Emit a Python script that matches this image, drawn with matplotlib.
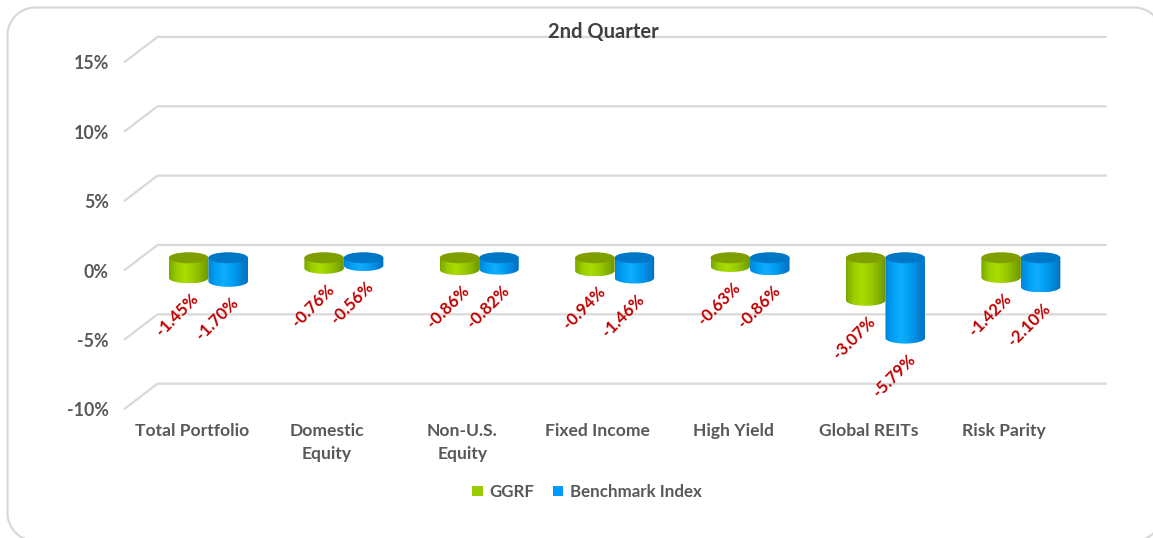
import numpy as np
import matplotlib
matplotlib.use("Agg")
import matplotlib.pyplot as plt
from matplotlib.patches import Ellipse, PathPatch, Patch
from matplotlib.path import Path
from matplotlib.colors import LinearSegmentedColormap

# ---------------- data ----------------
categories = ["Total Portfolio", "Domestic\nEquity", "Non-U.S.\nEquity", "Fixed Income",
              "High Yield", "Global REITs", "Risk Parity"]
ggrf = [-1.45, -0.76, -0.86, -0.94, -0.63, -3.07, -1.42]
benchmark = [-1.70, -0.56, -0.82, -1.46, -0.86, -5.79, -2.10]
series_names = ["GGRF", "Benchmark Index"]
yticks = [-10, -5, 0, 5, 10, 15]
ytick_labels = ["-10%", "-5%", "0%", "5%", "10%", "15%"]
title = "2nd Quarter"

plt.rcParams['font.family'] = ['Lato', 'DejaVu Sans']

W, H = 1153, 538
fig = plt.figure(figsize=(W / 100, H / 100), dpi=100)
fig.patch.set_facecolor("white")

# axes placement (pixels)
ax_l, ax_r, ax_t, ax_b = 124, 1107, 30, 412
ax = fig.add_axes([ax_l / W, 1 - ax_b / H, (ax_r - ax_l) / W, (ax_b - ax_t) / H])
px_per_unit = 135.4
px_per_pct = 13.87
y0_px = 270.5
xmin = -0.5
xmax = xmin + (ax_r - ax_l) / px_per_unit
ymax = (y0_px - ax_t) / px_per_pct
ymin = (y0_px - ax_b) / px_per_pct

DX = 33.5 / px_per_unit      # depth shift (x)
DY = 25.5 / px_per_pct       # depth shift (y)

grid_c = "#d9d9d9"
text_c = "#595959"

# grid (floor of 3D walls)
for v in yticks:
    ax.plot([xmin, xmin + DX, xmax], [v, v + DY, v + DY], color=grid_c, lw=1.6,
            solid_capstyle="butt", zorder=1, clip_on=False)

# cylinder drawing
green_cmap = LinearSegmentedColormap.from_list(
    "g", ["#7aa600", "#9bcf00", "#aadc00", "#9ccd00", "#86b400", "#6e9400"])
blue_cmap = LinearSegmentedColormap.from_list(
    "b", ["#0086d8", "#00a0f6", "#10adff", "#00a0f4", "#0088dc", "#006fbe"])
top_colors = ["#7f9f00", "#0077c6"]
cmaps = [green_cmap, blue_cmap]

bw = 39.5 / px_per_unit
b_half = 5.5 / px_per_pct
top_y = DY / 2
grad = np.linspace(0, 1, 256).reshape(1, -1)

x = np.arange(len(categories))
series = [ggrf, benchmark]
offsets = [-bw / 2, bw / 2]

for i in range(len(categories)):
    for s in range(2):
        val = series[s][i]
        xc = x[i] + DX / 2 + offsets[s]
        xl, xr = xc - bw / 2, xc + bw / 2
        bot = val + top_y
        t = np.linspace(np.pi, 2 * np.pi, 60)
        verts = [(xl, top_y), (xl, bot)]
        verts += [(xc + bw / 2 * np.cos(a), bot + b_half * np.sin(a)) for a in t]
        verts += [(xr, top_y), (xl, top_y)]
        codes = [Path.MOVETO] + [Path.LINETO] * (len(verts) - 2) + [Path.CLOSEPOLY]
        clip = PathPatch(Path(verts, codes), facecolor="none", edgecolor="none",
                         transform=ax.transData, zorder=3 + s)
        ax.add_patch(clip)
        im = ax.imshow(grad, extent=[xl, xr, bot - b_half, top_y], aspect="auto",
                       cmap=cmaps[s], zorder=3 + s, interpolation="bilinear")
        im.set_clip_path(clip)
        ax.add_patch(Ellipse((xc, top_y), bw, 2 * b_half, facecolor=top_colors[s],
                             edgecolor="none", zorder=3.5 + s))
        # data label
        ax.annotate(f"{val:.2f}%", xy=(xc, bot - b_half), xytext=(-8, -23),
                    textcoords="offset points", ha="center", va="center",
                    rotation=45, color="#c00000", fontsize=12, fontweight="bold",
                    zorder=6)

ax.set_xlim(xmin, xmax)
ax.set_ylim(ymin, ymax)
ax.set_yticks(yticks)
ax.set_yticklabels(ytick_labels)
ax.set_xticks(x)
ax.set_xticklabels(categories, linespacing=1.5)
ax.tick_params(axis="y", length=0, pad=11, labelsize=12.8, labelcolor=text_c)
ax.tick_params(axis="x", length=0, pad=8, labelsize=12.6, labelcolor=text_c)
for lab in ax.get_xticklabels() + ax.get_yticklabels():
    lab.set_fontweight("bold")
for sp in ax.spines.values():
    sp.set_visible(False)
ax.set_facecolor("none")

# title
fig.text(603 / W, 1 - 32 / H, title, ha="center", va="center", fontsize=14.5,
         fontweight="bold", color="#404040", zorder=10)

# legend
handles = [Patch(facecolor="#99cc00", edgecolor="none"),
           Patch(facecolor="#0099ff", edgecolor="none")]
leg = fig.legend(handles, series_names, loc="center", bbox_to_anchor=(587 / W, 1 - 492 / H),
                 ncol=2, frameon=False, handlelength=0.6, handleheight=0.6,
                 handletextpad=0.4, columnspacing=1.1, prop=dict(size=12.2, weight="bold"))
for t_ in leg.get_texts():
    t_.set_color(text_c)

# outer rounded border, built in pixel coords (top-left origin) then mapped to inches
L, T, R, B, r = 7.5, 7.5, 1162.0, 541.0, 28.0
def arc(cx, cy, a0, a1, n=20):
    aa = np.linspace(np.radians(a0), np.radians(a1), n)
    return [(cx + r * np.cos(a), cy + r * np.sin(a)) for a in aa]
pts = [(L + r, T), (R - r, T)]
pts += arc(R - r, T + r, -90, 0)
pts += [(R, B - r)]
pts += arc(R - r, B - r, 0, 90)
pts += [(L + r, B)]
pts += arc(L + r, B - r, 90, 180)
pts += [(L, T + r)]
pts += arc(L + r, T + r, 180, 270)
pts_in = [(px / 100, (H - py) / 100) for px, py in pts]
bpath = Path(pts_in + [pts_in[0]], [Path.MOVETO] + [Path.LINETO] * (len(pts_in) - 1) + [Path.CLOSEPOLY])
border = PathPatch(bpath, transform=fig.dpi_scale_trans, facecolor="none",
                   edgecolor="#d9d9d9", lw=1.6, zorder=0)
fig.patches.append(border)

fig.savefig("out.png", dpi=100)
